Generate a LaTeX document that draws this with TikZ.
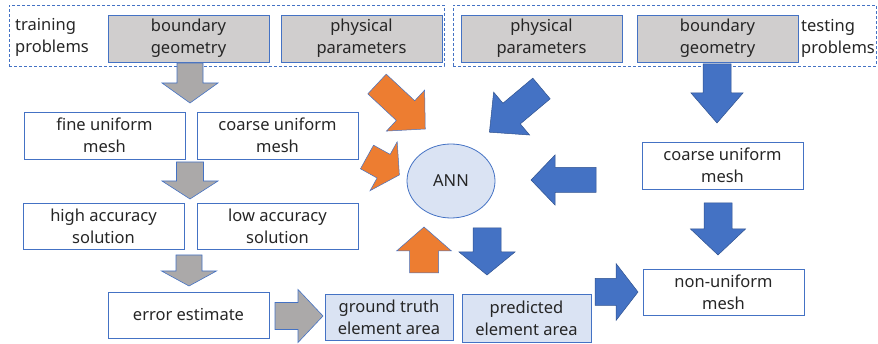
\documentclass[tikz,border=0pt]{standalone}
\usepackage{fontspec}
\setmainfont{Noto Sans}
\usetikzlibrary{shapes.geometric}
\definecolor{bblue}{HTML}{4472C4}
\definecolor{bdark}{HTML}{2F528F}
\definecolor{borange}{HTML}{ED7D31}
\definecolor{bgray}{HTML}{ABA9A9}
\definecolor{boxgray}{HTML}{D0CECE}
\definecolor{lblue}{HTML}{DAE3F3}
\definecolor{txt}{HTML}{262626}
\tikzset{
 box/.style={draw=bblue, line width=0.8pt, align=center, inner sep=0pt, minimum width=161pt, minimum height=47pt, font=\fontsize{16.5}{22}\selectfont, text=txt},
 graybox/.style={box, fill=boxgray},
 bluebox/.style={box, fill=lblue, minimum width=128pt},
 frame/.style={draw=bblue, dash pattern=on 3pt off 2pt, line width=0.8pt, inner sep=0pt},
 lbl/.style={align=left, inner sep=0pt, font=\fontsize{16.5}{22}\selectfont, text=txt},
 garr/.style={fill=bgray, draw=bblue, line width=0.6pt},
 oarr/.style={fill=borange, draw=bblue, line width=0.5pt},
 barr/.style={fill=bblue, draw=bdark, line width=0.5pt},
}
\newcommand\blockarr[8]{%
 \begin{scope}[shift={(#2,#3)},rotate=#4]
 \draw[#1] (0,{-#6/2}) -- ({#5-#8},{-#6/2}) -- ({#5-#8},{-#7/2}) -- (#5,0) -- ({#5-#8},{#7/2}) -- ({#5-#8},{#6/2}) -- (0,{#6/2}) -- cycle;
 \end{scope}}
\begin{document}
\begin{tikzpicture}[x=1pt,y=-1pt]
\useasboundingbox (0,0) rectangle (878,344);
% frames
\node[frame, minimum width=435pt, minimum height=61pt] (train) at (226.5,35.5) {};
\node[frame, minimum width=423pt, minimum height=61pt] (test) at (664.5,35.5) {};
\node[lbl, anchor=west] (trainlbl) at (15,37) {training\\problems};
\node[lbl, anchor=west] (testlbl) at (801,38) {testing\\problems};
% top boxes
\node[graybox] (bg1) at (188.5,38.5) {boundary\\geometry};
\node[graybox] (pp1) at (361.5,38.5) {physical\\parameters};
\node[graybox] (pp2) at (541.5,38.5) {physical\\parameters};
\node[graybox] (bg2) at (717.5,38.5) {boundary\\geometry};
% left column
\node[box] (fine) at (104.5,135.5) {fine uniform\\mesh};
\node[box] (coarse1) at (277.5,135.5) {coarse uniform\\mesh};
\node[box, minimum height=46pt] (high) at (103.5,226) {high accuracy\\solution};
\node[box, minimum height=46pt] (low) at (277.5,226) {low accuracy\\solution};
\node[box, minimum height=46pt] (err) at (188.5,315) {error estimate};
\node[bluebox, minimum height=46pt] (gt) at (389,317) {ground truth\\element area};
\node[bluebox, minimum width=129pt, minimum height=48pt] (pred) at (526.5,318) {predicted\\element area};
% right column
\node[box] (coarse2) at (722.5,165.5) {coarse uniform\\mesh};
\node[box, minimum height=46pt] (nonuni) at (723.5,292) {non-uniform\\mesh};
% ANN
\node[ellipse, draw=bblue, fill=lblue, line width=0.8pt, minimum width=88pt, minimum height=74pt, inner sep=0pt, font=\fontsize{16.5}{22}\selectfont, text=txt] (ann) at (451,181) {ANN};
% gray arrows
\blockarr{garr}{190}{63}{-90}{40}{26}{56}{20}
\blockarr{garr}{190}{162}{-90}{37}{27}{56}{18}
\blockarr{garr}{189}{255}{-90}{31}{26}{55}{15}
\blockarr{garr}{275}{316}{0}{48}{27}{53}{25}
% orange arrows
\blockarr{oarr}{377}{84}{-43}{66}{27}{56}{27}
\blockarr{oarr}{367}{157}{-29}{37}{27}{56}{18}
\blockarr{oarr}{424}{273}{90}{46}{29}{55}{24}
% blue arrows
\blockarr{barr}{541.5}{88.5}{-140}{68}{27}{56}{29}
\blockarr{barr}{596}{180}{180}{65}{25}{50}{24}
\blockarr{barr}{487}{228}{-90}{47}{28}{56}{23}
\blockarr{barr}{717}{64}{-90}{59}{28}{52}{30}
\blockarr{barr}{718}{203}{-90}{52}{28}{55}{26}
\blockarr{barr}{595}{292}{0}{43}{27}{57}{22}
\end{tikzpicture}
\end{document}
